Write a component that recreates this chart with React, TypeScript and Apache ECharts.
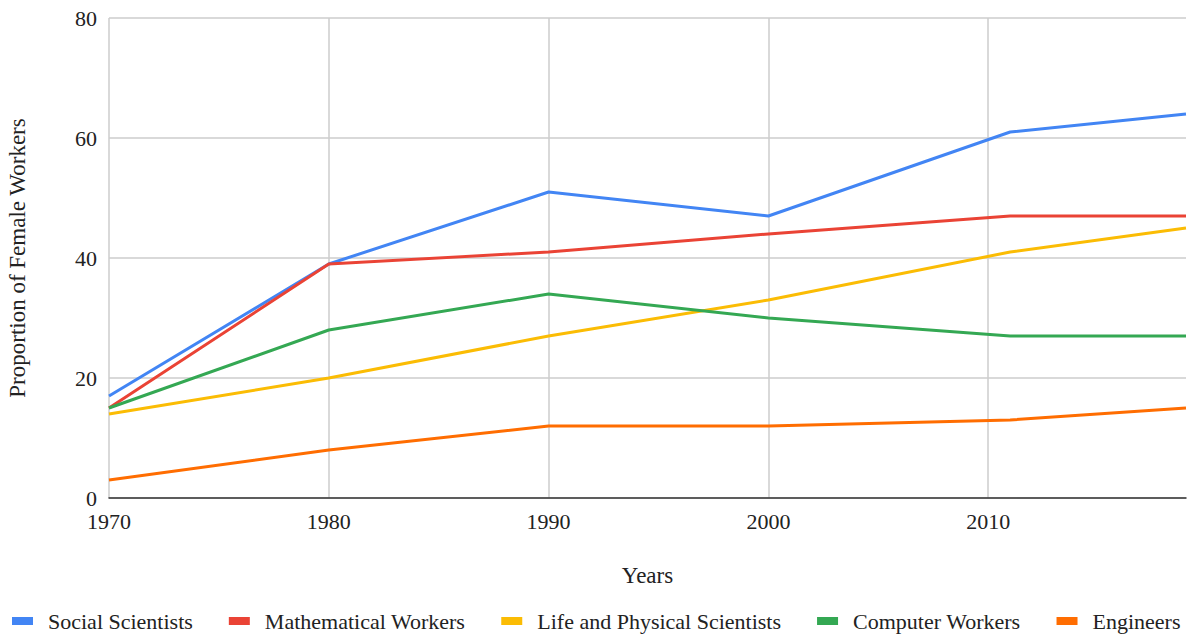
import React, { useEffect, useRef } from "react";
import * as echarts from "echarts";

const years = [1970, 1980, 1990, 2000, 2011, 2019];
const socialScientists = [17, 39, 51, 47, 61, 64];
const mathematicalWorkers = [15, 39, 41, 44, 47, 47];
const lifePhysicalScientists = [14, 20, 27, 33, 41, 45];
const computerWorkers = [15, 28, 34, 30, 27, 27];
const engineers = [3, 8, 12, 12, 13, 15];

const seriesNames = [
  "Social Scientists",
  "Mathematical Workers",
  "Life and Physical Scientists",
  "Computer Workers",
  "Engineers",
];
const seriesData = [socialScientists, mathematicalWorkers, lifePhysicalScientists, computerWorkers, engineers];
const colors = ["#4285F4", "#EA4335", "#FBBC04", "#34A853", "#FF6D01"];

const FONT = "'Liberation Serif', 'Times New Roman', serif";

export default function App() {
  const ref = useRef<HTMLDivElement>(null);
  useEffect(() => {
    if (!ref.current) return;
    const chart = echarts.init(ref.current, undefined, { renderer: "svg" });
    chart.setOption({
      animation: false,
      color: colors,
      textStyle: { fontFamily: FONT },
      grid: { left: 109, right: 6, top: 18, bottom: 136, containLabel: false, outerBoundsMode: "none" },
      legend: {
        left: 12,
        top: 610,
        padding: 0,
        itemWidth: 21,
        itemHeight: 8,
        itemGap: 36,
        icon: "rect",
        textStyle: { fontFamily: FONT, fontSize: 22, color: "#222", padding: [0, 0, 0, 10] },
        data: seriesNames,
      },
      xAxis: {
        type: "value",
        min: 1970,
        max: 2019,
        interval: 10,
        name: "Years",
        nameLocation: "middle",
        nameGap: 66,
        nameTextStyle: { fontFamily: FONT, fontSize: 23, color: "#222" },
        axisLine: { show: true, lineStyle: { color: "#333", width: 1.5 } },
        axisTick: { show: false },
        axisLabel: {
          fontFamily: FONT,
          fontSize: 22,
          color: "#222",
          margin: 12,
          showMaxLabel: false,
          formatter: (v: number) => String(v),
        },
        splitLine: { show: true, showMaxLine: false, lineStyle: { color: "#cccccc", width: 1.5 } },
      },
      yAxis: {
        type: "value",
        min: 0,
        max: 80,
        interval: 20,
        name: "Proportion of Female Workers",
        nameLocation: "middle",
        nameGap: 80,
        nameTextStyle: { fontFamily: FONT, fontSize: 23, color: "#222" },
        axisLine: { show: false },
        axisTick: { show: false },
        axisLabel: { fontFamily: FONT, fontSize: 22, color: "#222", margin: 12 },
        splitLine: { show: true, lineStyle: { color: "#cccccc", width: 1.5 } },
      },
      series: seriesNames.map((name, i) => ({
        name,
        type: "line",
        showSymbol: false,
        symbol: "none",
        lineStyle: { width: 3 },
        data: years.map((y, j) => [y, seriesData[i][j]]),
      })),
    });
    return () => chart.dispose();
  }, []);
  return (
    <div
      ref={ref}
      style={{ position: "absolute", left: 0, top: 0, width: 1192, height: 634, background: "#fff" }}
    />
  );
}
